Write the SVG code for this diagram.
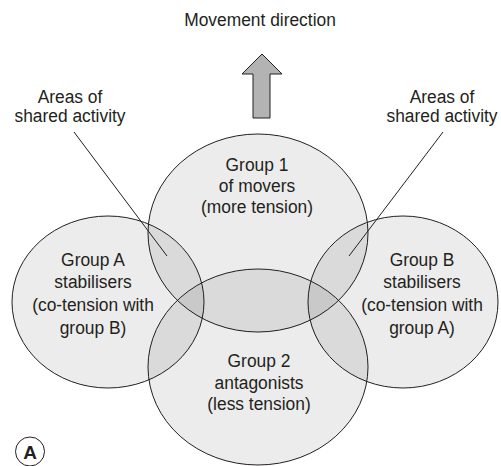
<svg xmlns="http://www.w3.org/2000/svg" width="501" height="466" viewBox="0 0 501 466">
  <style>
    .lbl { font-family: "Liberation Sans", Arial, sans-serif; font-size: 19px; fill: #231f20; text-anchor: middle; }
    .set { fill: #000; fill-opacity: 0.075; stroke: #231f20; stroke-width: 1; }
    .lead { stroke: #231f20; stroke-width: 1; fill: none; }
  </style>
  <rect width="501" height="466" fill="#ffffff"/>

  <!-- movement arrow and caption -->
  <g id="movement">
    <g transform="translate(260 0) scale(0.915 1)">
      <text class="lbl" x="0" y="26">Movement direction</text>
    </g>
    <polygon points="262,54 282,74 270,74 270,118 253,118 253,74 242,74" fill="#b3b3b3" stroke="#231f20" stroke-width="1"/>
  </g>

  <!-- muscle groups -->
  <g id="group1">
    <ellipse class="set" cx="258" cy="233" rx="110" ry="99"/>
  </g>
  <g id="groupA">
    <ellipse class="set" cx="108" cy="302" rx="96" ry="86"/>
  </g>
  <g id="groupB">
    <ellipse class="set" cx="403" cy="302" rx="95" ry="86"/>
  </g>
  <g id="group2">
    <ellipse class="set" cx="258" cy="367" rx="110" ry="98"/>
  </g>

  <!-- labels inside groups -->
  <g id="group1-text" transform="translate(257 0) scale(0.915 1)">
    <text class="lbl" x="0" y="171">Group 1</text>
    <text class="lbl" x="0" y="192">of movers</text>
    <text class="lbl" x="0" y="213">(more tension)</text>
  </g>
  <g id="groupA-text" transform="translate(93 0) scale(0.915 1)">
    <text class="lbl" x="0" y="266">Group A</text>
    <text class="lbl" x="0" y="288">stabilisers</text>
    <text class="lbl" x="0" y="311">(co-tension with</text>
    <text class="lbl" x="0" y="334">group B)</text>
  </g>
  <g id="groupB-text" transform="translate(422 0) scale(0.915 1)">
    <text class="lbl" x="0" y="266">Group B</text>
    <text class="lbl" x="0" y="288">stabilisers</text>
    <text class="lbl" x="0" y="311">(co-tension with</text>
    <text class="lbl" x="0" y="334">group A)</text>
  </g>
  <g id="group2-text" transform="translate(259 0) scale(0.915 1)">
    <text class="lbl" x="0" y="367">Group 2</text>
    <text class="lbl" x="0" y="389">antagonists</text>
    <text class="lbl" x="0" y="410">(less tension)</text>
  </g>

  <!-- shared activity callouts -->
  <g id="shared-left" transform="translate(70 0) scale(0.915 1)">
    <text class="lbl" x="0" y="103">Areas of</text>
    <text class="lbl" x="0" y="122">shared activity</text>
  </g>
  <g id="shared-right" transform="translate(442 0) scale(0.915 1)">
    <text class="lbl" x="0" y="103">Areas of</text>
    <text class="lbl" x="0" y="122">shared activity</text>
  </g>
  <g id="connectors">
    <line class="lead" x1="74" y1="132" x2="167" y2="256"/>
    <line class="lead" x1="443" y1="132" x2="349" y2="256"/>
  </g>

  <!-- panel tag -->
  <g id="panel-tag">
    <circle cx="30" cy="451.5" r="14.5" fill="none" stroke="#231f20" stroke-width="1"/>
    <text x="30" y="458.5" font-family="Liberation Sans, Arial, sans-serif" font-size="19" font-weight="bold" fill="#231f20" text-anchor="middle">A</text>
  </g>
</svg>
